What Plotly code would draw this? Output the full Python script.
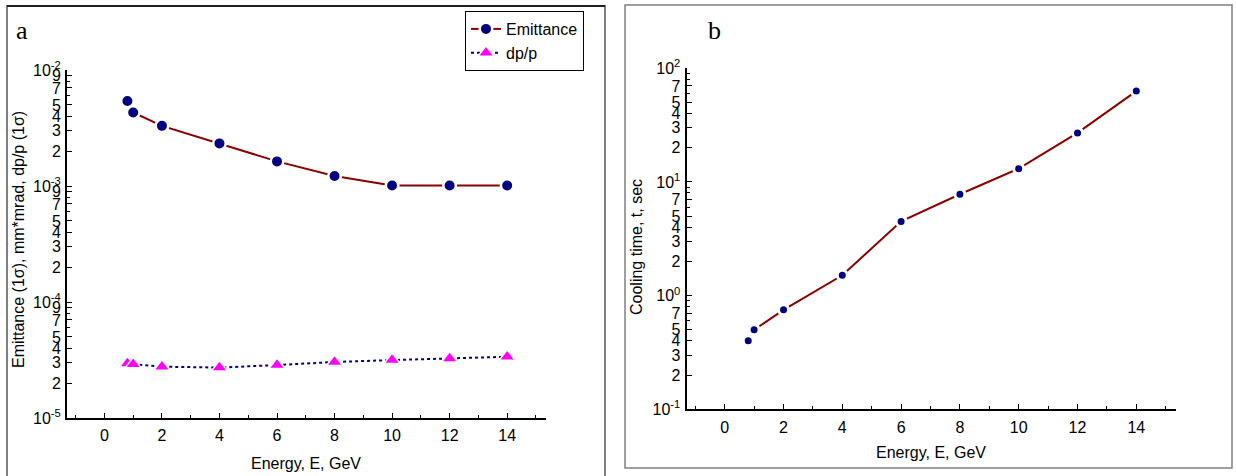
import plotly.graph_objects as go

# ---------------- data ----------------
energy = [0.8, 1, 2, 4, 6, 8, 10, 12, 14]
emittance = [5.4e-3, 4.3e-3, 3.3e-3, 2.33e-3, 1.63e-3, 1.22e-3, 1.01e-3, 1.01e-3, 1.01e-3]
dpp = [2.95e-5, 2.9e-5, 2.77e-5, 2.72e-5, 2.86e-5, 3.04e-5, 3.16e-5, 3.25e-5, 3.37e-5]
cool_time = [0.40, 0.50, 0.75, 1.51, 4.5, 7.8, 13.1, 27.0, 63.0]

x_major = [0, 2, 4, 6, 8, 10, 12, 14]
x_minor = [-1, 1, 3, 5, 7, 9, 11, 13, 15]

left_decades = [-5, -4, -3, -2]
right_decades = [-1, 0, 1, 2]
left_minor_labels = [2, 3, 4, 5, 7, 9]
right_minor_labels = [2, 3, 4, 5, 7]

W, H = 1236, 476
FONT = "Liberation Sans, Arial, sans-serif"
SERIF = "Liberation Serif, Times New Roman, serif"
RED = "#8b0000"
NAVY = "#000080"
MAG = "#ff00ff"
FS = 16


def log_ticks(decades, minor_labels):
    vals, text = [], []
    for d in decades:
        vals.append(10.0 ** d)
        text.append("10<sup>%d</sup>" % d)
    for d in decades[:-1]:
        for m in minor_labels:
            vals.append(m * 10.0 ** d)
            text.append(str(m))
    minor = [m * 10.0 ** d for d in decades[:-1] for m in range(2, 10)]
    return vals, text, minor


def px(x):
    return x / W


def py(y):
    return 1 - y / H


fig = go.Figure()

fig.add_trace(go.Scatter(
    x=energy, y=emittance, name="Emittance", mode="lines+markers",
    line=dict(color=RED, width=2),
    marker=dict(symbol="circle", size=12.5, color=NAVY, line=dict(color="white", width=2.5)),
    xaxis="x", yaxis="y"))
fig.add_trace(go.Scatter(
    x=energy, y=dpp, name="dp/p", mode="lines+markers",
    line=dict(color=NAVY, width=2, dash="dot"),
    marker=dict(symbol="triangle-up", size=14, color=MAG, line=dict(color="white", width=1.5)),
    xaxis="x", yaxis="y"))
fig.add_trace(go.Scatter(
    x=energy, y=cool_time, name="Cooling time", mode="lines+markers",
    line=dict(color=RED, width=2),
    marker=dict(symbol="circle", size=10, color=NAVY, line=dict(color="white", width=3)),
    xaxis="x2", yaxis="y2", showlegend=False))

lv, lt, lm = log_ticks(left_decades, left_minor_labels)
rv, rt, rm = log_ticks(right_decades, right_minor_labels)

axis_common = dict(
    showgrid=False, zeroline=False, showline=True, linecolor="black", linewidth=2,
    ticks="inside", ticklen=5, tickwidth=1, tickcolor="black",
    tickfont=dict(family=FONT, size=FS, color="black"), automargin=False,
)

xa = dict(axis_common, range=[-1.3, 15.35], tickmode="array", tickvals=x_major,
          ticktext=[str(v) for v in x_major],
          minor=dict(tickvals=x_minor, ticks="inside", ticklen=3, tickcolor="black"))

fig.update_layout(
    width=W, height=H,
    margin=dict(l=0, r=0, t=0, b=0),
    paper_bgcolor="white", plot_bgcolor="white",
    font=dict(family=FONT, size=FS, color="black"),
    xaxis=dict(xa, domain=[px(67), px(546)], anchor="y", ticklabelstandoff=2),
    yaxis=dict(axis_common, type="log", range=[-5, -2], domain=[py(418), py(70)],
               tickmode="array", tickvals=lv, ticktext=lt, anchor="x", ticklabelstandoff=1,
               minor=dict(tickvals=lm, ticks="inside", ticklen=3, tickcolor="black")),
    xaxis2=dict(xa, domain=[px(686.5), px(1176)], anchor="y2", ticklabelstandoff=2),
    yaxis2=dict(axis_common, type="log", range=[-1, 2], domain=[py(409.3), py(68.3)],
                tickmode="array", tickvals=rv, ticktext=rt, anchor="x2", ticklabelstandoff=1,
                minor=dict(tickvals=rm, ticks="inside", ticklen=3, tickcolor="black")),
    legend=dict(x=px(465), y=py(11), xanchor="left", yanchor="top",
                bordercolor="black", borderwidth=1, bgcolor="white",
                font=dict(family=FONT, size=16, color="black"),
                tracegroupgap=0, itemwidth=30),
    showlegend=True,
)

# panel frames
fig.add_shape(type="rect", xref="paper", yref="paper",
              x0=px(7), x1=px(605), y0=py(6), y1=py(490),
              line=dict(color="#808080", width=2), layer="below")
fig.add_shape(type="line", xref="paper", yref="paper",
              x0=px(7), x1=px(605), y0=py(6), y1=py(6),
              line=dict(color="black", width=1.5))
fig.add_shape(type="rect", xref="paper", yref="paper",
              x0=px(625), x1=px(1232), y0=py(5), y1=py(468),
              line=dict(color="#808080", width=1.5), layer="below")

ann = [
    dict(text="a", x=px(22), y=py(31), font=dict(family=SERIF, size=26)),
    dict(text="b", x=px(714), y=py(31), font=dict(family=SERIF, size=26)),
    dict(text="Emittance (1σ), mm*mrad, dp/p (1σ)", x=px(18), y=py(240), textangle=-90,
         font=dict(family=FONT, size=FS)),
    dict(text="Cooling time, t, sec", x=px(636), y=py(247), textangle=-90,
         font=dict(family=FONT, size=FS)),
    dict(text="Energy, E, GeV", x=px(306), y=py(463), font=dict(family=FONT, size=FS)),
    dict(text="Energy, E, GeV", x=px(931), y=py(452), font=dict(family=FONT, size=FS)),
]
for a in ann:
    fig.add_annotation(xref="paper", yref="paper", showarrow=False,
                       xanchor="center", yanchor="middle", **a)

fig.write_html("out.html")
